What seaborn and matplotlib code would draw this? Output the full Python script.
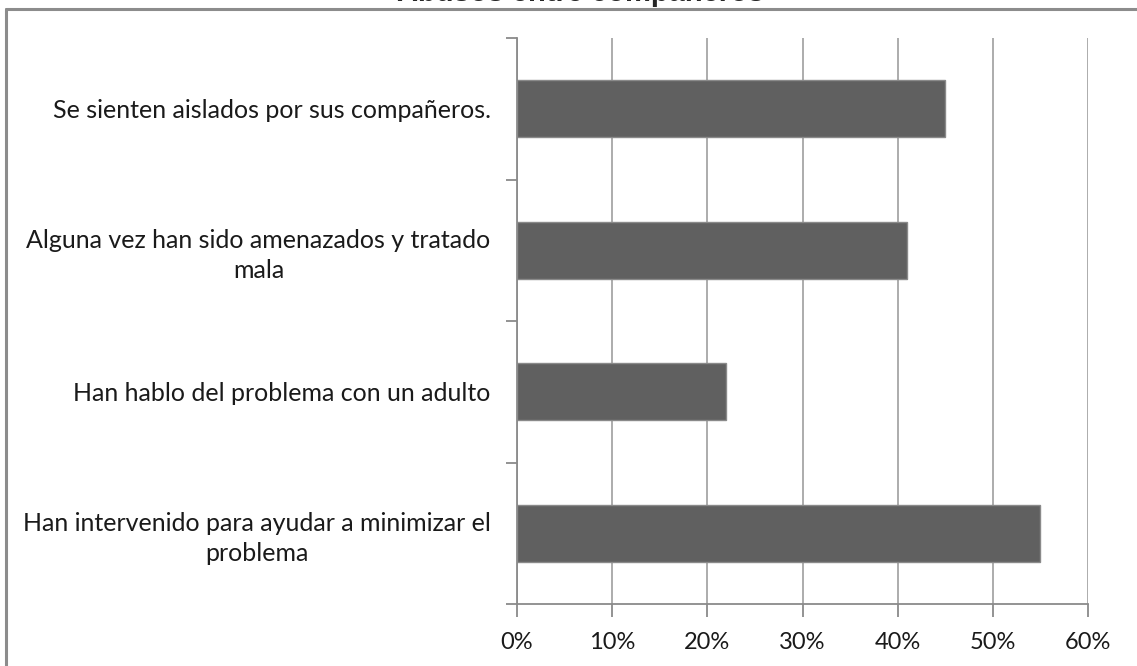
import seaborn as sns
import pandas as pd
import matplotlib.pyplot as plt
from matplotlib.lines import Line2D
from matplotlib.ticker import PercentFormatter

# Data
categories = [
    "Se sienten aislados por sus compañeros.",
    "Alguna vez han sido amenazados y tratado\nmala",
    "Han hablo del problema con un adulto",
    "Han intervenido para ayudar a minimizar el\nproblema",
]
values = [0.45, 0.41, 0.22, 0.55]
title = "Abusos entre compañeros"

df = pd.DataFrame({"cat": categories, "val": values})

sns.set_style("white")
plt.rcParams["font.family"] = ["Lato", "DejaVu Sans"]

fig = plt.figure(figsize=(11.37, 6.66), dpi=100)
ax = fig.add_axes([517 / 1137, 62 / 666, 571 / 1137, 566 / 666])

sns.barplot(data=df, x="val", y="cat", orient="h", color="#606060",
            width=0.4, edgecolor="#8a8a8a", linewidth=1, saturation=1,
            zorder=3, ax=ax)

ax.set_xlim(0, 0.6)
ax.set_ylim(len(categories) - 0.5, -0.5)
ax.set_xticks([0, 0.1, 0.2, 0.3, 0.4, 0.5, 0.6])
ax.xaxis.set_major_formatter(PercentFormatter(1.0, decimals=0))
ax.grid(axis="x", color="#a6a6a6", linewidth=1.3, zorder=0)
ax.set_xlabel("")
ax.set_ylabel("")

# category boundary ticks on y axis
ax.set_yticks([i - 0.5 for i in range(len(categories) + 1)], minor=True)
ax.tick_params(axis="y", which="major", length=0, pad=19, labelsize=18,
               labelcolor="#1a1a1a")
ax.tick_params(axis="y", which="minor", length=8, width=1.3, color="#8a8a8a",
               left=True)
ax.tick_params(axis="x", length=9, width=1.3, color="#8a8a8a", bottom=True,
               labelsize=17, labelcolor="#1a1a1a", pad=11)
for lbl in ax.get_yticklabels():
    lbl.set_multialignment("center")
    lbl.set_linespacing(1.35)

for s in ["top", "right"]:
    ax.spines[s].set_visible(False)
for s in ["left", "bottom"]:
    ax.spines[s].set_color("#8a8a8a")
    ax.spines[s].set_linewidth(1.3)

# chart frame
fig.add_artist(Line2D([6 / 1137, 1.0], [1 - 9 / 666, 1 - 9 / 666],
                      color="#8c8c8c", linewidth=2.2))
fig.add_artist(Line2D([6 / 1137, 6 / 1137], [0, 1 - 9 / 666],
                      color="#8c8c8c", linewidth=2.2))

fig.text(581 / 1137, 1 - 1 / 666, title, ha="center", va="baseline",
         fontsize=21, fontweight="bold", family=["Liberation Sans", "DejaVu Sans"])

plt.savefig("out.png", dpi=100)
